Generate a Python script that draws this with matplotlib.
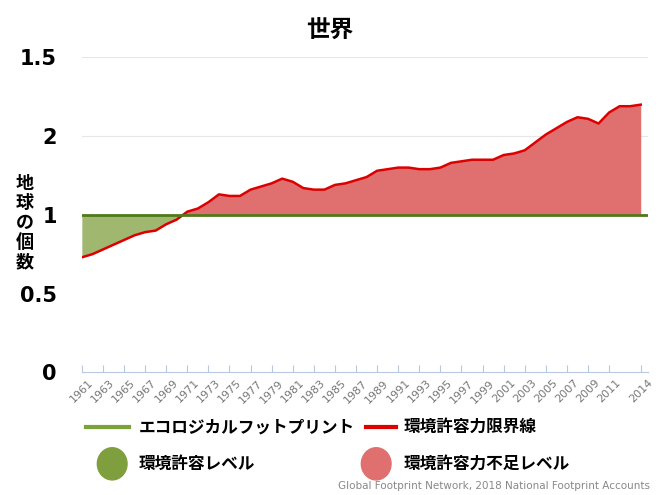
import numpy as np
import matplotlib.pyplot as plt
from matplotlib.lines import Line2D
from matplotlib.patches import Ellipse

plt.rcParams["font.family"] = ["Noto Sans CJK JP", "DejaVu Sans"]

years = list(range(1961, 2015))
footprint = [0.73, 0.75, 0.78, 0.81, 0.84, 0.87, 0.89, 0.90, 0.94, 0.97,
             1.02, 1.04, 1.08, 1.13, 1.12, 1.12, 1.16, 1.18, 1.20, 1.23,
             1.21, 1.17, 1.16, 1.16, 1.19, 1.20, 1.22, 1.24, 1.28, 1.29,
             1.30, 1.30, 1.29, 1.29, 1.30, 1.33, 1.34, 1.35, 1.35, 1.35,
             1.38, 1.39, 1.41, 1.46, 1.51, 1.55, 1.59, 1.62, 1.61, 1.58,
             1.65, 1.69, 1.69, 1.70]
capacity = 1.0
tick_years = list(range(1961, 2012, 2)) + [2014]
y_ticks = [0, 0.5, 1, 1.5, 2]
y_labels = ["0", "0.5", "1", "2", "1.5"]  # as printed on the original

green = "#7f9f3f"
red = "#e07070"

fig = plt.figure(figsize=(6.6, 4.95), dpi=100)
ax = fig.add_axes([0.124, 0.248, 0.858, 0.636])

x = np.array(years)
y = np.array(footprint)
ax.fill_between(x, y, capacity, where=y <= capacity, interpolate=True, color=green, alpha=0.75, lw=0)
ax.fill_between(x, y, capacity, where=y >= capacity, interpolate=True, color=red, lw=0)
ax.plot(x, y, color="#dd0000", lw=1.8)
ax.axhline(capacity, color="#4f7a1a", lw=2)
for g in (1.5, 2):
    ax.axhline(g, color="#e6e6e6", lw=0.8, zorder=0)

ax.set_xlim(1961, 2014.7)
ax.set_ylim(0, 2)
ax.set_yticks(y_ticks)
ax.set_yticklabels(y_labels, fontsize=15, fontweight="bold", family="DejaVu Sans")
ax.set_xticks(tick_years)
ax.set_xticklabels([str(t) for t in tick_years], rotation=45, fontsize=8, color="#777777",
                   ha="center", family="DejaVu Sans")
ax.tick_params(axis="y", length=0, pad=18)
ax.tick_params(axis="x", length=5, color="#b8c8e0", direction="in", pad=4)
for s in ("top", "right", "left"):
    ax.spines[s].set_visible(False)
ax.spines["bottom"].set_color("#b8c8e0")

fig.text(0.5, 0.925, "世界", ha="center", fontsize=17, fontweight="bold")
fig.text(0.037, 0.55, "地\n球\nの\n個\n数", ha="center", va="center", fontsize=13,
         fontweight="bold", linespacing=1.05)

# legend
fig.add_artist(Line2D([0.13, 0.195], [0.137, 0.137], color="#7aa33a", lw=3))
fig.text(0.21, 0.137, "エコロジカルフットプリント", va="center", fontsize=12, fontweight="bold")
fig.add_artist(Line2D([0.555, 0.6], [0.137, 0.137], color="#e00000", lw=3))
fig.text(0.612, 0.137, "環境許容力限界線", va="center", fontsize=12, fontweight="bold")
fig.add_artist(Ellipse((0.17, 0.063), 0.045, 0.065, color=green, transform=fig.transFigure))
fig.text(0.21, 0.063, "環境許容レベル", va="center", fontsize=12, fontweight="bold")
fig.add_artist(Ellipse((0.57, 0.063), 0.045, 0.065, color=red, transform=fig.transFigure))
fig.text(0.612, 0.063, "環境許容力不足レベル", va="center", fontsize=12, fontweight="bold")
fig.text(0.985, 0.012, "Global Footprint Network, 2018 National Footprint Accounts",
         ha="right", fontsize=7.5, color="#888888", family="DejaVu Sans")

fig.savefig("out.png", dpi=100)
